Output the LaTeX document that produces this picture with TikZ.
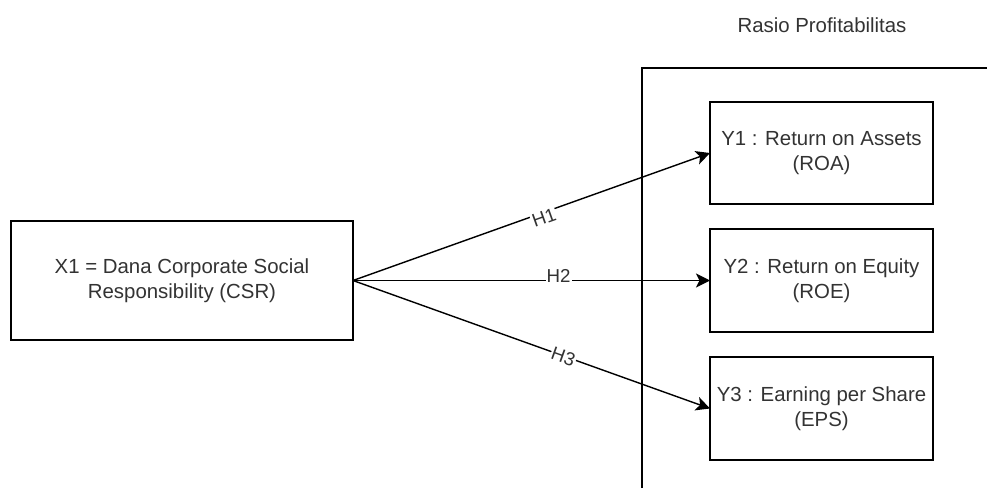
\documentclass[tikz,border=0pt]{standalone}
\usepackage{fontspec}
\setmainfont{Liberation Sans}
\usetikzlibrary{arrows.meta}
\definecolor{txt}{HTML}{333333}
\tikzset{
  box/.style={draw=black, line width=1.4pt, fill=white, text=txt, align=center,
    font=\fontsize{20.4}{25}\selectfont, inner sep=0pt, outer sep=0pt},
  conn/.style={line width=1.4pt, -{Stealth[length=14pt, width=14pt, inset=3.5pt]}},
  hlab/.style={fill=white, text=txt, font=\fontsize{18.7}{22}\selectfont, inner sep=1pt}
}
\begin{document}
\begin{tikzpicture}[x=1pt, y=-1pt]
\useasboundingbox (0,0) rectangle (987,488);
\fill[white] (0,0) rectangle (987,488);
% container (clipped by page)
\draw[line width=1.4pt] (642,488) -- (642,68) -- (987,68);
\node[text=txt, font=\fontsize{20.4}{25}\selectfont] (title) at (822,25) {Rasio Profitabilitas};
\node[box, minimum width=342pt, minimum height=119pt] (x1) at (182,280.5)
  {X1 = Dana Corporate Social\\Responsibility (CSR)};
\node[box, minimum width=223pt, minimum height=102pt] (y1) at (821.5,153)
  {Y1 : Return on Assets\\(ROA)};
\node[box, minimum width=223pt, minimum height=103pt] (y2) at (821.5,280.5)
  {Y2 : Return on Equity\\(ROE)};
\node[box, minimum width=223pt, minimum height=103pt] (y3) at (821.5,408.5)
  {Y3 : Earning per Share\\(EPS)};
\draw[conn] (x1.east) -- node[hlab, pos=0.53, sloped, yshift=-5pt] (h1) {H1} (y1.west);
\draw[conn] (x1.east) -- node[hlab, pos=0.576, yshift=5pt] (h2) {H2} (y2.west);
\draw[conn] (x1.east) -- node[hlab, pos=0.59, sloped, yshift=-1pt] (h3) {H3} (y3.west);
\end{tikzpicture}
\end{document}
